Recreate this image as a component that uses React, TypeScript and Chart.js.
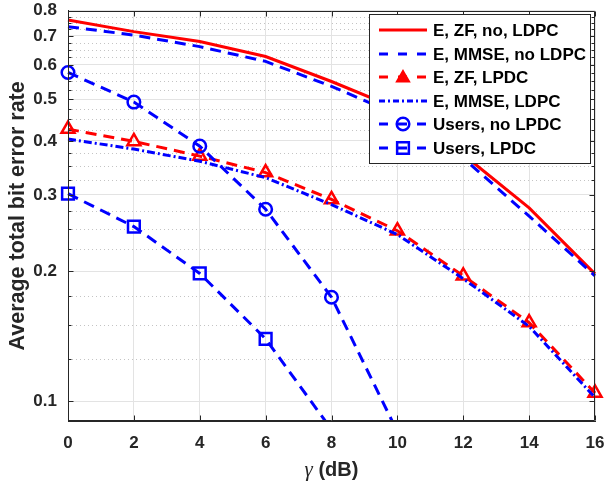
import React, { useEffect, useRef } from "react";
import { Chart, registerables } from "chart.js";

Chart.register(...registerables);

// ---------- data ----------
const gammaDb = [0, 2, 4, 6, 8, 10, 12, 14, 16];
const eZfNoLdpc = [0.762, 0.716, 0.679, 0.627, 0.549, 0.475, 0.372, 0.28, 0.197];
const eMmseNoLdpc = [0.735, 0.703, 0.661, 0.611, 0.535, 0.46, 0.365, 0.268, 0.195];
const eZfLdpc = [0.426, 0.399, 0.369, 0.338, 0.293, 0.248, 0.195, 0.152, 0.1045];
const eMmseLdpc = [0.404, 0.383, 0.359, 0.329, 0.285, 0.243, 0.192, 0.149, 0.102];
const usersNoLdpc = [0.576, 0.492, 0.389, 0.278, 0.174, 0.085];
const usersLdpc = [0.302, 0.2535, 0.1975, 0.1394, 0.086];

const seriesLabels = [
  "E, ZF, no, LDPC",
  "E, MMSE, no LDPC",
  "E, ZF, LPDC",
  "E, MMSE, LDPC",
  "Users, no LPDC",
  "Users, LPDC",
];

const xTickValues = [0, 2, 4, 6, 8, 10, 12, 14, 16];
const yTickValues = [0.1, 0.2, 0.3, 0.4, 0.5, 0.6, 0.7, 0.8];
const yMinorValues = [
  0.125, 0.15, 0.175, 0.225, 0.25, 0.275, 0.325, 0.35, 0.375, 0.425, 0.45, 0.475,
  0.525, 0.55, 0.575, 0.625, 0.65, 0.675, 0.725, 0.75, 0.775,
];
const xTitleSymbol = "γ";
const xTitleUnit = " (dB)";
const yTitle = "Average total bit error rate";

// ---------- styles ----------
const RED = "#ff0000";
const BLUE = "#0000ff";
const AXIS = "#262626";
const FONT = "'Liberation Sans', Arial, Helvetica, sans-serif";
const DASH = [11, 7];
const DASHDOT = [8, 3, 2, 3];
const LEGEND_DASH = [9, 10];
const LEGEND_DASHDOT = [6, 3, 2, 3];

const pts = (ys: number[]) => ys.map((y, i) => ({ x: gammaDb[i], y }));

function drawMarker(ctx: CanvasRenderingContext2D, style: string, x: number, y: number, r: number, fill: boolean) {
  ctx.beginPath();
  if (style === "triangle") {
    ctx.moveTo(x, y - r);
    ctx.lineTo(x + r * Math.sin(Math.PI / 3), y + r * 0.5);
    ctx.lineTo(x - r * Math.sin(Math.PI / 3), y + r * 0.5);
    ctx.closePath();
  } else if (style === "circle") {
    ctx.arc(x, y, r, 0, Math.PI * 2);
  } else if (style === "rect") {
    const s = Math.SQRT1_2 * r;
    ctx.rect(x - s, y - s, 2 * s, 2 * s);
  }
  if (fill) ctx.fill();
  ctx.stroke();
}

const decorPlugin = {
  id: "decor",
  beforeDatasetsDraw(chart: any) {
    const { ctx, chartArea: a, scales } = chart;
    const ys = scales.y;
    ctx.save();
    ctx.strokeStyle = "#c4c4c4";
    ctx.lineWidth = 1;
    ctx.setLineDash([1, 3]);
    for (const v of yMinorValues) {
      const py = Math.round(ys.getPixelForValue(v)) + 0.5;
      ctx.beginPath();
      ctx.moveTo(a.left, py);
      ctx.lineTo(a.right, py);
      ctx.stroke();
    }
    ctx.restore();
  },
  afterDatasetsDraw(chart: any) {
    const { ctx, chartArea: a, scales } = chart;
    const xs = scales.x;
    const ys = scales.y;
    ctx.save();
    ctx.strokeStyle = AXIS;
    ctx.lineWidth = 1;
    ctx.setLineDash([]);
    const L = Math.round(a.left) + 0.5;
    const R = Math.round(a.right) - 0.5;
    const T = Math.round(a.top) + 0.5;
    const B = Math.round(a.bottom) - 0.5;
    ctx.beginPath();
    ctx.moveTo(L, B);
    ctx.lineTo(L, T);
    ctx.lineTo(R, T);
    ctx.lineTo(R, B);
    ctx.lineTo(L, B);
    ctx.stroke();
    ctx.beginPath();
    for (const v of xTickValues) {
      const px = Math.round(xs.getPixelForValue(v)) + 0.5;
      ctx.moveTo(px, B);
      ctx.lineTo(px, B - 5);
      ctx.moveTo(px, T);
      ctx.lineTo(px, T + 5);
    }
    for (const v of yTickValues) {
      const py = Math.round(ys.getPixelForValue(v)) + 0.5;
      ctx.moveTo(L, py);
      ctx.lineTo(L + 5, py);
      ctx.moveTo(R, py);
      ctx.lineTo(R - 5, py);
    }
    for (const v of yMinorValues) {
      const py = Math.round(ys.getPixelForValue(v)) + 0.5;
      ctx.moveTo(L, py);
      ctx.lineTo(L + 3, py);
      ctx.moveTo(R, py);
      ctx.lineTo(R - 3, py);
    }
    ctx.stroke();
    ctx.restore();
  },
  afterDraw(chart: any) {
    const { ctx, chartArea: a } = chart;
    ctx.save();
    // legend
    const bx = 369.5, by = 14.5, bw = 221, bh = 149;
    ctx.fillStyle = "#ffffff";
    ctx.fillRect(bx, by, bw, bh);
    ctx.strokeStyle = AXIS;
    ctx.lineWidth = 1;
    ctx.setLineDash([]);
    ctx.strokeRect(bx, by, bw, bh);
    const rowY0 = 30;
    const rowStep = 23.6;
    chart.data.datasets.forEach((ds: any, i: number) => {
      const cy = Math.round(rowY0 + i * rowStep);
      ctx.strokeStyle = ds.borderColor;
      ctx.fillStyle = ds.borderColor;
      ctx.lineWidth = ds.borderWidth;
      let dash: number[] = [];
      if (ds.borderDash === DASHDOT) dash = LEGEND_DASHDOT;
      else if (ds.borderDash && ds.borderDash.length) dash = LEGEND_DASH;
      ctx.setLineDash(dash);
      ctx.lineDashOffset = 0;
      ctx.beginPath();
      ctx.moveTo(379, cy);
      ctx.lineTo(427, cy);
      ctx.stroke();
      if (ds.pointRadius > 0) {
        ctx.setLineDash([]);
        ctx.lineWidth = ds.pointBorderWidth;
        const isTri = ds.pointStyle === "triangle";
        drawMarker(ctx, ds.pointStyle, 403, isTri ? cy + 1 : cy, isTri ? 6.5 : ds.pointRadius, isTri);
      }
      ctx.setLineDash([]);
      ctx.fillStyle = "#000000";
      ctx.font = `bold 17px ${FONT}`;
      ctx.textAlign = "left";
      ctx.textBaseline = "middle";
      ctx.fillText(ds.label, 433, cy + 1);
    });
    // y title
    ctx.save();
    ctx.translate(24, (a.top + a.bottom) / 2);
    ctx.rotate(-Math.PI / 2);
    ctx.fillStyle = AXIS;
    ctx.font = `bold 21.5px ${FONT}`;
    ctx.textAlign = "center";
    ctx.textBaseline = "alphabetic";
    ctx.fillText(yTitle, 0, 0);
    ctx.restore();
    // x title
    const symFont = "italic 21px 'Liberation Serif', 'DejaVu Serif', serif";
    const unitFont = `bold 20px ${FONT}`;
    ctx.font = symFont;
    const w1 = ctx.measureText(xTitleSymbol).width;
    ctx.font = unitFont;
    const w2 = ctx.measureText(xTitleUnit).width;
    const cx = (a.left + a.right) / 2;
    const x0 = cx - (w1 + w2) / 2;
    const base = 476;
    ctx.fillStyle = AXIS;
    ctx.textAlign = "left";
    ctx.textBaseline = "alphabetic";
    ctx.font = symFont;
    ctx.fillText(xTitleSymbol, x0, base);
    ctx.font = unitFont;
    ctx.fillText(xTitleUnit, x0 + w1, base);
    ctx.restore();
  },
};

export default function App() {
  const canvasRef = useRef<HTMLCanvasElement | null>(null);

  useEffect(() => {
    const canvas = canvasRef.current;
    if (!canvas) return;
    const common = { tension: 0, borderWidth: 3, pointBorderWidth: 2.5, pointBackgroundColor: "rgba(0,0,0,0)", fill: false };
    const bottomClip = { left: false, top: false, right: false, bottom: 0 };
    const chart = new Chart(canvas, {
      type: "line",
      data: {
        datasets: [
          { ...common, label: seriesLabels[0], data: pts(eZfNoLdpc), borderColor: RED, borderDash: [], pointRadius: 0, pointStyle: "circle", order: 0, clip: false },
          { ...common, label: seriesLabels[1], data: pts(eMmseNoLdpc), borderColor: BLUE, borderDash: DASH, pointRadius: 0, pointStyle: "circle", order: -1, clip: false },
          { ...common, label: seriesLabels[2], data: pts(eZfLdpc), borderColor: RED, pointBorderColor: RED, borderDash: DASH, pointRadius: 7.5, pointStyle: "triangle", order: -2, clip: false },
          { ...common, label: seriesLabels[3], data: pts(eMmseLdpc), borderColor: BLUE, borderDash: DASHDOT, pointRadius: 0, pointStyle: "circle", order: -3, clip: false },
          { ...common, label: seriesLabels[4], data: pts(usersNoLdpc), borderColor: BLUE, pointBorderColor: BLUE, borderDash: DASH, pointRadius: 6.3, pointStyle: "circle", order: -4, clip: bottomClip },
          { ...common, label: seriesLabels[5], data: pts(usersLdpc), borderColor: BLUE, pointBorderColor: BLUE, borderDash: DASH, pointRadius: 8.3, pointStyle: "rect", order: -5, clip: bottomClip },
        ] as any,
      },
      options: {
        responsive: false,
        animation: false,
        devicePixelRatio: 1,
        layout: { padding: { left: 0, top: 9, right: 11, bottom: 0 } },
        plugins: { legend: { display: false }, tooltip: { enabled: false }, title: { display: false } },
        scales: {
          x: {
            type: "linear",
            min: 0,
            max: 16,
            afterBuildTicks: (s: any) => {
              s.ticks = xTickValues.map((v) => ({ value: v }));
            },
            afterFit: (s: any) => {
              s.height = 64;
              s.paddingLeft = 0;
              s.paddingRight = 0;
            },
            ticks: { color: AXIS, font: { family: FONT, size: 17, weight: "bold" }, padding: 12, maxRotation: 0, autoSkip: false },
            grid: { color: "#e3e3e3", lineWidth: 1, drawTicks: false },
            border: { display: true, color: AXIS, width: 1 },
          },
          y: {
            type: "logarithmic",
            min: 0.09,
            max: 0.8,
            afterBuildTicks: (s: any) => {
              s.ticks = yTickValues.map((v) => ({ value: v }));
            },
            afterFit: (s: any) => {
              s.width = 68;
              s.paddingTop = 0;
              s.paddingBottom = 0;
            },
            ticks: {
              color: AXIS,
              font: { family: FONT, size: 17, weight: "bold" },
              padding: 11,
              autoSkip: false,
              callback: (v: any) => String(Math.round(Number(v) * 10) / 10),
            },
            grid: { color: "#e3e3e3", lineWidth: 1, drawTicks: false },
            border: { display: true, color: AXIS, width: 1 },
          },
        },
      } as any,
      plugins: [decorPlugin],
    });
    return () => chart.destroy();
  }, []);

  return (
    <div style={{ position: "absolute", left: 0, top: 0, width: 606, height: 485, background: "#ffffff" }}>
      <canvas ref={canvasRef} width={606} height={485} style={{ display: "block", width: 606, height: 485 }} />
    </div>
  );
}
